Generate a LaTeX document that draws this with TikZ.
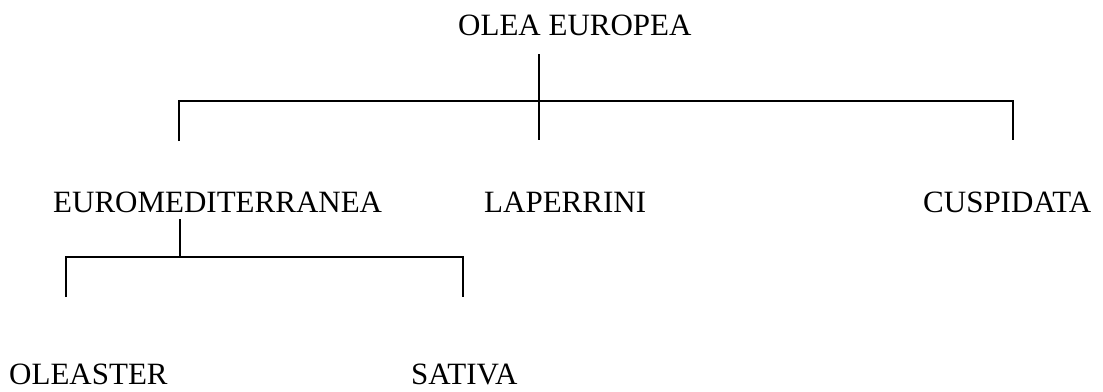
\documentclass[tikz,border=0pt]{standalone}
\usepackage{fontspec}
\setmainfont{Liberation Serif}
\begin{document}
\begin{tikzpicture}[x=1pt,y=-1pt,
  lbl/.style={anchor=base west, inner sep=0pt, text depth=0pt, font=\fontsize{31}{37}\selectfont},
  conn/.style={line width=1.5pt, line cap=butt}]
\useasboundingbox (0,0) rectangle (1103,391);
% labels
\node[lbl] (olea) at (458,35) {OLEA EUROPEA};
\node[lbl] (euro) at (53,212) {EUROMEDITERRANEA};
\node[lbl] (lap)  at (484,212) {LAPERRINI};
\node[lbl] (cusp) at (923,212) {CUSPIDATA};
\node[lbl] (olst) at (9,384) {OLEASTER};
\node[lbl] (sat)  at (411,384) {SATIVA};
% junction points
\coordinate (a0) at (539,54);
\coordinate (a2) at (539,140);
\coordinate (b1) at (179,101);
\coordinate (b2) at (179,141);
\coordinate (c1) at (1013,101);
\coordinate (c2) at (1013,140);
\coordinate (d0) at (180,219);
\coordinate (d1) at (180,257);
\coordinate (e1) at (66,257);
\coordinate (e2) at (66,297);
\coordinate (f1) at (463,257);
\coordinate (f2) at (463,297);
% connectors
\draw[conn] (a0) -- (a2);
\draw[conn] (b2) -- (b1) -- (c1) -- (c2);
\draw[conn] (d0) -- (d1);
\draw[conn] (e2) -- (e1) -- (f1) -- (f2);
\end{tikzpicture}
\end{document}
